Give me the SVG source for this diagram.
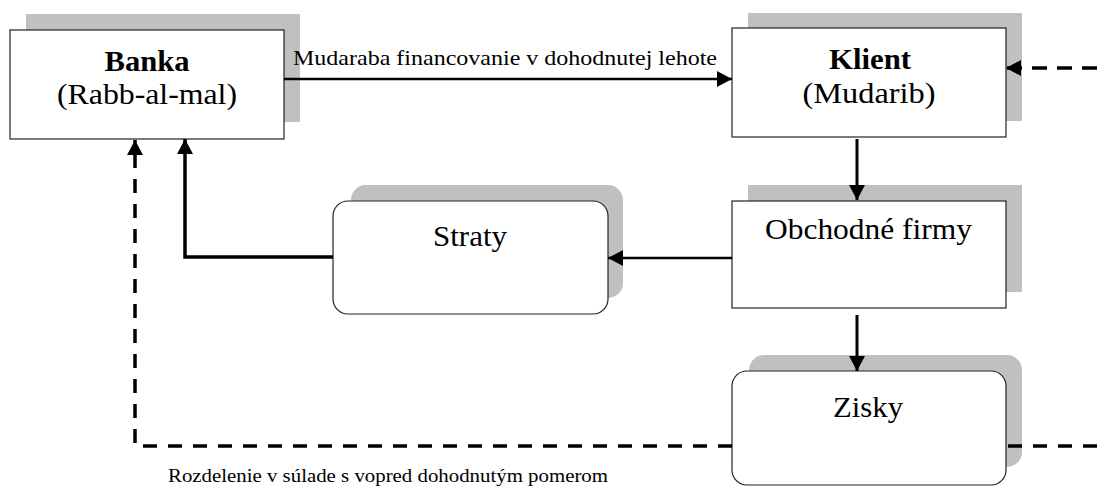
<svg xmlns="http://www.w3.org/2000/svg" width="1097" height="489" viewBox="0 0 1097 489">
<style>
.sh{fill:#c0c0c0;stroke:none}
.bx{fill:#fff;stroke:#222;stroke-width:1.2}
.t{font-family:"Liberation Serif","Times New Roman",serif;font-size:30px;fill:#000;text-anchor:middle}
.b{font-weight:bold}
.lbl{font-family:"Liberation Serif","Times New Roman",serif;fill:#000}
.c{fill:none;stroke:#000}
</style>
<defs>
<marker id="ah" markerUnits="userSpaceOnUse" viewBox="0 0 15 16" refX="15" refY="8" markerWidth="15" markerHeight="16" orient="auto">
<path d="M0,0 L15,8 L0,16 z" fill="#000"/>
</marker>
</defs>
<g id="banka">
<rect class="sh" x="26" y="14" width="274" height="108"/>
<rect class="bx" x="10" y="30" width="274" height="109"/>
<text class="t b" x="147" y="71" textLength="85" lengthAdjust="spacingAndGlyphs">Banka</text>
<text class="t" x="147" y="104" textLength="180" lengthAdjust="spacingAndGlyphs">(Rabb-al-mal)</text>
</g>
<g id="klient">
<rect class="sh" x="748" y="13" width="274" height="108"/>
<rect class="bx" x="732" y="28" width="274" height="109"/>
<text class="t b" x="870" y="69" textLength="82" lengthAdjust="spacingAndGlyphs">Klient</text>
<text class="t" x="869" y="103" textLength="133" lengthAdjust="spacingAndGlyphs">(Mudarib)</text>
</g>
<g id="straty">
<rect class="sh" x="351" y="185" width="272" height="113" rx="15"/>
<rect class="bx" x="333" y="201" width="275" height="113" rx="15"/>
<text class="t" x="470" y="246" textLength="74" lengthAdjust="spacingAndGlyphs">Straty</text>
</g>
<g id="obchodne">
<rect class="sh" x="748" y="185" width="274" height="107"/>
<rect class="bx" x="732" y="201" width="274" height="107"/>
<text class="t" x="868.5" y="239" textLength="207" lengthAdjust="spacingAndGlyphs">Obchodné firmy</text>
</g>
<g id="zisky">
<rect class="sh" x="749" y="355" width="273" height="112" rx="15"/>
<rect class="bx" x="732" y="371" width="274" height="114" rx="15"/>
<text class="t" x="868" y="417" textLength="70" lengthAdjust="spacingAndGlyphs">Zisky</text>
</g>
<g id="connectors">
<line class="c" x1="284" y1="79" x2="732" y2="79" stroke-width="2.5" marker-end="url(#ah)"/>
<text class="lbl" x="505" y="65" font-size="22" text-anchor="middle" textLength="424" lengthAdjust="spacingAndGlyphs">Mudaraba financovanie v dohodnutej lehote</text>
<line class="c" x1="1097" y1="68" x2="1006" y2="68" stroke-width="3.5" stroke-dasharray="15 10" marker-end="url(#ah)"/>
<line class="c" x1="857" y1="139" x2="857" y2="200" stroke-width="3" marker-end="url(#ah)"/>
<line class="c" x1="732" y1="258" x2="608" y2="258" stroke-width="2.5" marker-end="url(#ah)"/>
<polyline class="c" points="333,257 185,257 185,139" stroke-width="3.5" marker-end="url(#ah)"/>
<line class="c" x1="857" y1="315" x2="857" y2="371" stroke-width="3" marker-end="url(#ah)"/>
<line class="c" x1="1097" y1="446" x2="1006" y2="446" stroke-width="3.5" stroke-dasharray="14 11"/>
<polyline class="c" points="732,446 135,446 135,140" stroke-width="3.5" stroke-dasharray="14 11" marker-end="url(#ah)"/>
<text class="lbl" x="388" y="482" font-size="19" text-anchor="middle" textLength="440" lengthAdjust="spacingAndGlyphs">Rozdelenie v súlade s vopred dohodnutým pomerom</text>
</g>
</svg>
